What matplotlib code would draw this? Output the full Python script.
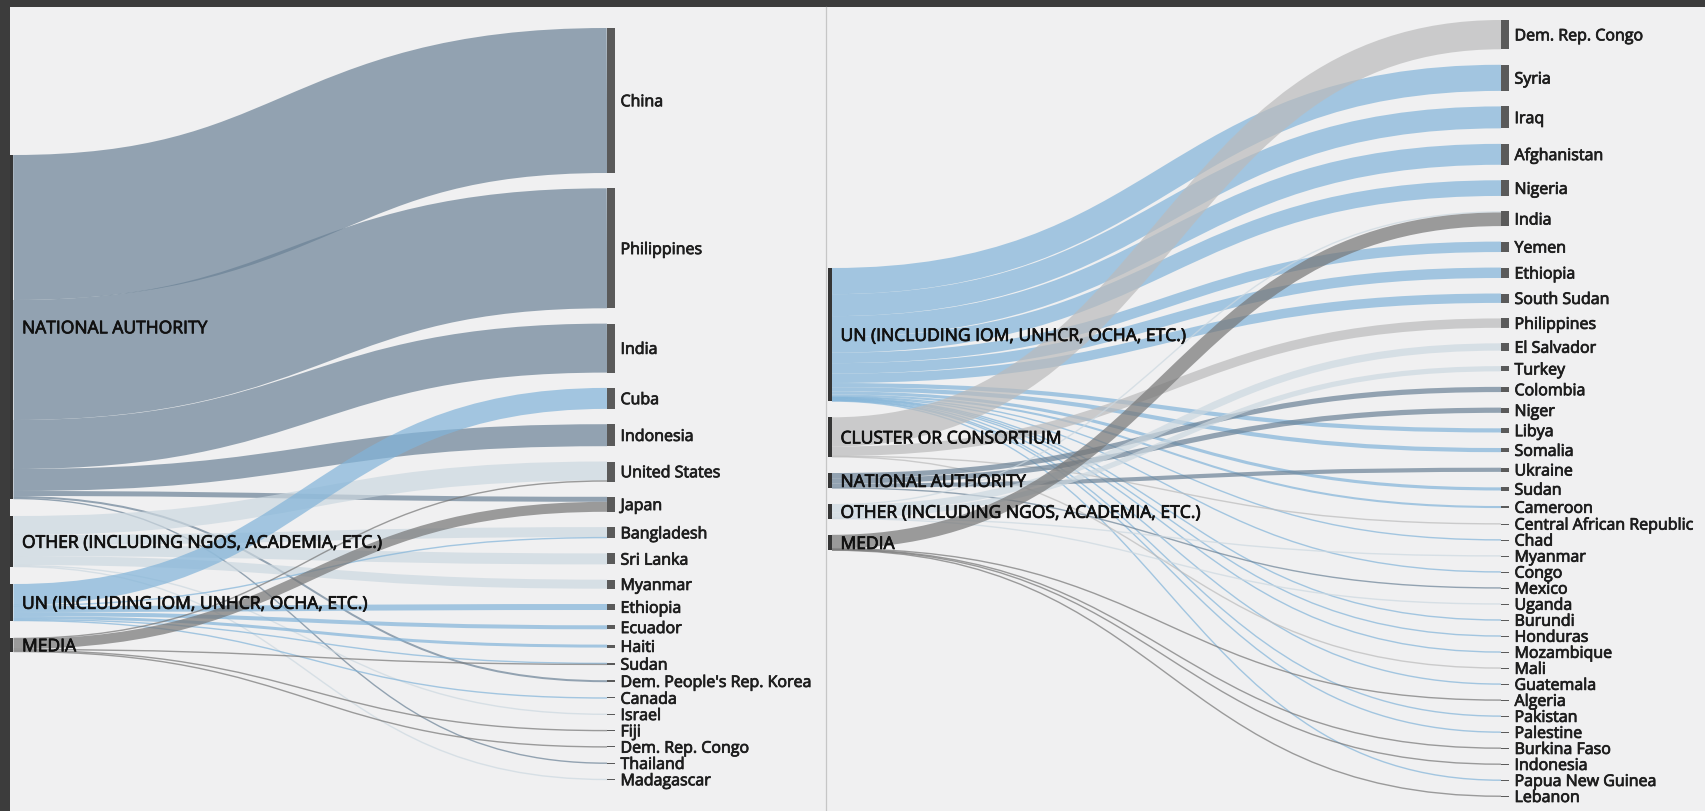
import matplotlib
matplotlib.use("Agg")
import matplotlib.pyplot as plt
import matplotlib.patheffects as pe
from matplotlib.path import Path
from matplotlib.patches import PathPatch, Rectangle

W, H, DPI = 1706, 812, 100

# ---------------- data: left panel ----------------
left_sources = ["NATIONAL AUTHORITY",
                "OTHER (INCLUDING NGOS, ACADEMIA, ETC.)",
                "UN (INCLUDING IOM, UNHCR, OCHA, ETC.)",
                "MEDIA"]
left_targets = ["China", "Philippines", "India", "Cuba", "Indonesia", "United States",
                "Japan", "Bangladesh", "Sri Lanka", "Myanmar", "Ethiopia", "Ecuador",
                "Haiti", "Sudan", "Dem. People's Rep. Korea", "Canada", "Israel", "Fiji",
                "Dem. Rep. Congo", "Thailand", "Madagascar"]
left_link_src = (["NATIONAL AUTHORITY"] * 7
                 + ["OTHER (INCLUDING NGOS, ACADEMIA, ETC.)"] * 6
                 + ["UN (INCLUDING IOM, UNHCR, OCHA, ETC.)"] * 7
                 + ["MEDIA"] * 5)
left_link_tgt = ["China", "Philippines", "India", "Indonesia", "Japan", "Dem. People's Rep. Korea", "Thailand",
                 "United States", "Bangladesh", "Sri Lanka", "Myanmar", "Israel", "Madagascar",
                 "Cuba", "Bangladesh", "Ethiopia", "Ecuador", "Haiti", "Sudan", "Canada",
                 "Japan", "United States", "Sudan", "Fiji", "Dem. Rep. Congo"]
left_link_val = [145, 120, 49, 22, 5, 2, 1,
                 19, 10, 11, 9, 1, 1,
                 21, 1, 6, 4, 3, 1, 1,
                 10, 1, 1, 1, 1]

# ---------------- data: right panel ----------------
right_sources = ["UN (INCLUDING IOM, UNHCR, OCHA, ETC.)",
                 "CLUSTER OR CONSORTIUM",
                 "NATIONAL AUTHORITY",
                 "OTHER (INCLUDING NGOS, ACADEMIA, ETC.)",
                 "MEDIA"]
right_targets = ["Dem. Rep. Congo", "Syria", "Iraq", "Afghanistan", "Nigeria", "India", "Yemen",
                 "Ethiopia", "South Sudan", "Philippines", "El Salvador", "Turkey", "Colombia",
                 "Niger", "Libya", "Somalia", "Ukraine", "Sudan", "Cameroon",
                 "Central African Republic", "Chad", "Myanmar", "Congo", "Mexico", "Uganda",
                 "Burundi", "Honduras", "Mozambique", "Mali", "Guatemala", "Algeria", "Pakistan",
                 "Palestine", "Burkina Faso", "Indonesia", "Papua New Guinea", "Lebanon"]
right_link_src = (["UN (INCLUDING IOM, UNHCR, OCHA, ETC.)"] * 20
                  + ["CLUSTER OR CONSORTIUM"] * 4
                  + ["NATIONAL AUTHORITY"] * 4
                  + ["OTHER (INCLUDING NGOS, ACADEMIA, ETC.)"] * 5
                  + ["MEDIA"] * 5)
right_link_tgt = ["Syria", "Iraq", "Afghanistan", "Nigeria", "Yemen", "Ethiopia", "South Sudan",
                  "Libya", "Somalia", "Sudan", "Cameroon", "Chad", "Congo", "Burundi", "Honduras",
                  "Mozambique", "Guatemala", "Pakistan", "Palestine", "Papua New Guinea",
                  "Dem. Rep. Congo", "Philippines", "Central African Republic", "Mali",
                  "Colombia", "Niger", "Ukraine", "Mexico",
                  "El Salvador", "Turkey", "India", "Myanmar", "Uganda",
                  "India", "Algeria", "Burkina Faso", "Indonesia", "Lebanon"]
right_link_val = [50, 42, 40, 30, 20, 20, 18, 8, 8, 6, 4, 1, 1, 1, 1, 1, 1, 1, 1, 1,
                  56, 18, 1, 1,
                  10, 10, 8, 1,
                  14, 10, 2, 1, 1,
                  26, 1, 1, 1, 1]

# ---------------- styles ----------------
link_colors = {
    "NATIONAL AUTHORITY": "#6b8296",
    "OTHER (INCLUDING NGOS, ACADEMIA, ETC.)": "#ccd8e0",
    "UN (INCLUDING IOM, UNHCR, OCHA, ETC.)": "#82b4d9",
    "MEDIA": "#767676",
    "CLUSTER OR CONSORTIUM": "#bbbbbb",
}
LINK_ALPHA = 0.7
MIN_LINK_PX = 1.4
FONT = ["Open Sans", "DejaVu Sans"]
SRC_PX = 17.5
TGT_PX = 16
SRC_FS = SRC_PX * 0.72
TGT_FS = TGT_PX * 0.72

left_layout = dict(sx0=10, sx1=13.5, tx0=607, tx1=615, ty0=29, ty1=781,
                   pad=15.3, sy0=156, sgap=17)
right_layout = dict(sx0=828, sx1=832, tx0=1501, tx1=1509, ty0=21, ty1=797.5,
                    pad=15.5, sy0=269, sgap=16)


def bold_fx(color):
    return [pe.withStroke(linewidth=0.55, foreground=color)]


def draw_sankey(ax, sources, targets, l_src, l_tgt, l_val, lay):
    links = list(zip(l_src, l_tgt, l_val))
    src_val = {s: 0 for s in sources}
    tgt_val = {t: 0 for t in targets}
    for s, t, v in links:
        src_val[s] += v
        tgt_val[t] += v
    total = sum(tgt_val.values())
    n = len(targets)
    ky = (lay["ty1"] - lay["ty0"] - (n - 1) * lay["pad"]) / total

    ty = {}
    y = lay["ty0"]
    for t in targets:
        ty[t] = y
        y += tgt_val[t] * ky + lay["pad"]
    sy = {}
    y = lay["sy0"]
    for s in sources:
        sy[s] = y
        y += src_val[s] * ky + lay["sgap"]

    pos = {}
    s_off = dict(sy)
    for s in sources:
        outs = sorted([L for L in links if L[0] == s], key=lambda L: targets.index(L[1]))
        for a, b, v in outs:
            w = v * ky
            pos[(a, b)] = [s_off[s] + w / 2, None, w]
            s_off[s] += w
    t_off = dict(ty)
    for t in targets:
        ins = sorted([L for L in links if L[1] == t], key=lambda L: sources.index(L[0]))
        for a, b, v in ins:
            w = v * ky
            pos[(a, b)][1] = t_off[t] + w / 2
            t_off[t] += w

    x0, x1 = lay["sx1"], lay["tx0"]
    xm = (x0 + x1) / 2
    for a, b, v in links:
        y0, y1, w = pos[(a, b)]
        path = Path([(x0, y0), (xm, y0), (xm, y1), (x1, y1)],
                    [Path.MOVETO, Path.CURVE4, Path.CURVE4, Path.CURVE4])
        ax.add_patch(PathPatch(path, fill=False, edgecolor=link_colors[a],
                               lw=max(MIN_LINK_PX, w) * 72 / DPI, alpha=LINK_ALPHA,
                               capstyle="butt", zorder=2))

    # nodes and labels
    for s in sources:
        h = max(1.0, src_val[s] * ky)
        ax.add_patch(Rectangle((lay["sx0"], sy[s]), lay["sx1"] - lay["sx0"], h,
                               facecolor="#353535", edgecolor="none", zorder=3))
        ax.text(lay["sx1"] + 8.5, sy[s] + src_val[s] * ky / 2 + 0.36 * SRC_PX, s,
                ha="left", va="baseline", fontsize=SRC_FS, family=FONT,
                color="#111111", zorder=4, path_effects=bold_fx("#111111"))
    for t in targets:
        h = max(1.0, tgt_val[t] * ky)
        ax.add_patch(Rectangle((lay["tx0"], ty[t]), lay["tx1"] - lay["tx0"], h,
                               facecolor="#5a5a5a", edgecolor="none", zorder=3))
        ax.text(lay["tx1"] + 5.5, ty[t] + tgt_val[t] * ky / 2 + 0.36 * TGT_PX, t,
                ha="left", va="baseline", fontsize=TGT_FS, family=FONT,
                color="#1e1e1e", zorder=4, path_effects=bold_fx("#1e1e1e"))


fig = plt.figure(figsize=(W / DPI, H / DPI), dpi=DPI, facecolor="#3c3c3c")
ax = fig.add_axes([0, 0, 1, 1])
ax.set_xlim(0, W)
ax.set_ylim(H, 0)
ax.axis("off")

ax.add_patch(Rectangle((10, 8), 816.5, H - 8, facecolor="#f0f0f1", edgecolor="none", zorder=0))
ax.add_patch(Rectangle((827, 8), W - 827, H - 8, facecolor="#f0f0f1", edgecolor="none", zorder=0))
ax.plot([826.5, 826.5], [8, H], color="#c6c6c6", lw=0.9, zorder=1)

draw_sankey(ax, left_sources, left_targets, left_link_src, left_link_tgt, left_link_val, left_layout)
draw_sankey(ax, right_sources, right_targets, right_link_src, right_link_tgt, right_link_val, right_layout)

fig.savefig("out.png", dpi=DPI, facecolor=fig.get_facecolor())
